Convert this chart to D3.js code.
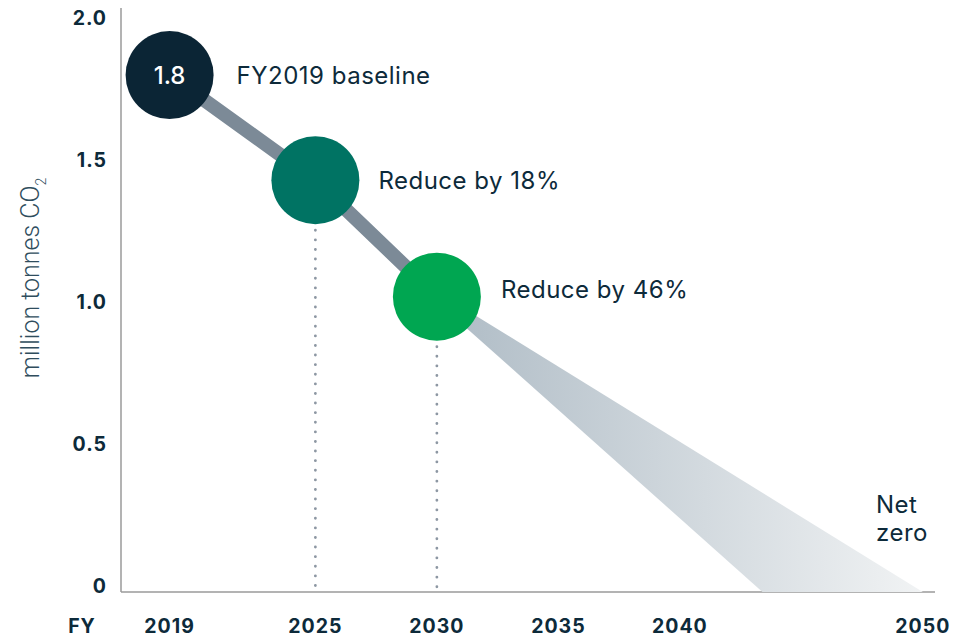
<!DOCTYPE html>
<html><head><meta charset="utf-8">
<script src="https://cdn.jsdelivr.net/npm/d3@7"></script>
<style>body{margin:0;background:#fff}svg{display:block}text{font-family:Inter,"Noto Sans",sans-serif}</style>
</head><body><svg id="c" width="953" height="638"></svg>
<script>
const years = [2019, 2025, 2030];
const values = [1.82, 1.45, 1.04];
const circleLabels = ["1.8", "", ""];
const annotations = ["FY2019 baseline", "Reduce by 18%", "Reduce by 46%"];
const colors = ["#0b2535", "#007363", "#00a651"];
const xTicks = [2019, 2025, 2030, 2035, 2040, 2050];
const yTicks = [0, 0.5, 1.0, 1.5, 2.0];
const yTickLabels = ["0", "0.5", "1.0", "1.5", "2.0"];
const fanEnds = [2043.4, 2050];
const netZeroLabel = ["Net", "zero"];

const svg = d3.select("#c");
const x = d3.scaleLinear().domain([2017, 2050.5]).range([121, 935]);
const y = d3.scaleLinear().domain([0, 2]).range([592, 24]);
const navy = "#0d2a3a";

// gradient for fan
const defs = svg.append("defs");
const g = defs.append("linearGradient").attr("id","fan").attr("gradientUnits","userSpaceOnUse")
  .attr("x1", x(2030)).attr("y1", 0).attr("x2", x(2050)).attr("y2", 0);
g.append("stop").attr("offset","0%").attr("stop-color","#aebbc5");
g.append("stop").attr("offset","100%").attr("stop-color","#f1f3f4");

// axes
svg.append("line").attr("x1", x(2017)).attr("x2", x(2017)).attr("y1", 8).attr("y2", y(0))
  .attr("stroke","#9a9a9a").attr("stroke-width",1.5);
svg.append("line").attr("x1", x(2017)).attr("x2", x(2050.5)).attr("y1", y(0)).attr("y2", y(0))
  .attr("stroke","#9a9a9a").attr("stroke-width",1.5);

// y tick labels
svg.selectAll(".yt").data(yTicks).join("text")
  .attr("x", 107).attr("y", d => y(d) - 6).attr("dy","0.35em")
  .attr("text-anchor","end").attr("font-weight",700).attr("font-size",19.5).attr("letter-spacing",1).attr("fill",navy)
  .text((d,i) => yTickLabels[i]);

// x tick labels
svg.selectAll(".xt").data(xTicks).join("text")
  .attr("x", d => x(d)).attr("y", 633)
  .attr("text-anchor","middle").attr("font-weight",700).attr("font-size",19.5).attr("letter-spacing",1).attr("fill",navy)
  .text(d => d);
svg.append("text").attr("x", 82).attr("y", 633).attr("text-anchor","middle").attr("letter-spacing",1)
  .attr("font-weight",700).attr("font-size",19.5).attr("fill",navy).text("FY");

// y title
const yt = svg.append("text").attr("transform","translate(39,278) rotate(-90)")
  .attr("text-anchor","middle").attr("font-size",25).attr("font-weight",300).attr("fill","#2f4d5d")
  .style("font-family","Roboto, sans-serif");
yt.append("tspan").text("million tonnes CO");
yt.append("tspan").attr("font-size",14).attr("dy",7).text("2");

// fan
const fanPts = [[x(2030), y(values[2]) - 5], [x(fanEnds[1]), y(0)], [x(fanEnds[0]), y(0)], [x(2030), y(values[2]) + 5]];
svg.append("path").attr("d", d3.line()(fanPts)).attr("fill","url(#fan)");

// thick line
svg.append("path").attr("d", d3.line().x((d,i)=>x(years[i])).y(d=>y(d))(values))
  .attr("stroke","#7c8a97").attr("stroke-width",14).attr("fill","none");

// dotted drop lines
svg.selectAll(".drop").data([1,2]).join("line")
  .attr("x1", i => x(years[i])).attr("x2", i => x(years[i]))
  .attr("y1", i => y(values[i]) + 50).attr("y2", y(0))
  .attr("stroke","#8d97a3").attr("stroke-width",2.8).attr("stroke-linecap","round")
  .attr("stroke-dasharray","0.1 9.5");

// circles
svg.selectAll(".c").data(values).join("circle")
  .attr("cx",(d,i)=>x(years[i])).attr("cy",d=>y(d)).attr("r",44)
  .attr("fill",(d,i)=>colors[i]);
svg.selectAll(".cl").data(values).join("text")
  .attr("x",(d,i)=>x(years[i])).attr("y",d=>y(d)).attr("dy","0.35em")
  .attr("text-anchor","middle").attr("fill","#fff").attr("font-size",24).attr("font-weight",500)
  .text((d,i)=>circleLabels[i]);

// annotations
const annOff = [[67,0],[63,0],[64,-7]];
svg.selectAll(".an").data(values).join("text")
  .attr("x",(d,i)=>x(years[i]) + annOff[i][0]).attr("y",(d,i)=>y(d) + annOff[i][1]).attr("dy","0.35em")
  .attr("fill",navy).attr("font-size",24).attr("letter-spacing",0.5).attr("font-weight",400)
  .text((d,i)=>annotations[i]);

// net zero
svg.selectAll(".nz").data(netZeroLabel).join("text")
  .attr("x", 876).attr("y",(d,i)=>505 + i*28).attr("dy","0.35em")
  .attr("fill",navy).attr("font-size",24).attr("letter-spacing",0.5).text(d=>d);
</script></body></html>
